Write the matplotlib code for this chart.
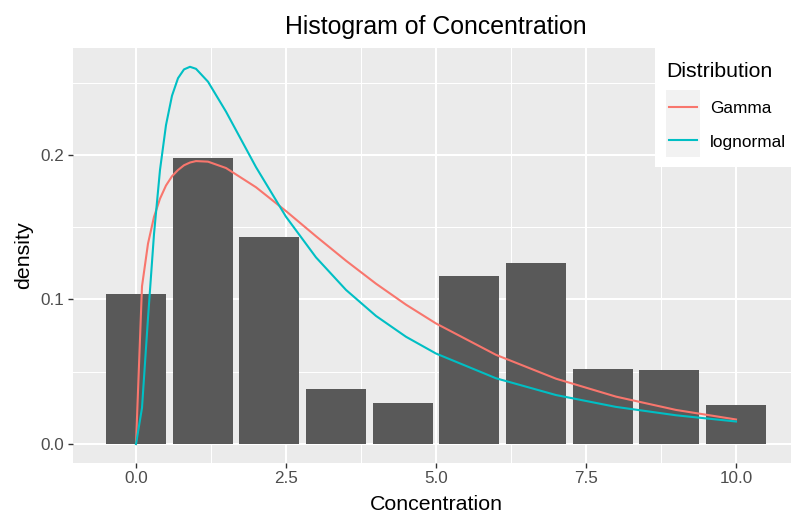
import matplotlib
matplotlib.use("Agg")
import matplotlib.pyplot as plt
from matplotlib.patches import Rectangle
from matplotlib.lines import Line2D

plt.rcParams['font.family'] = ['Liberation Sans', 'DejaVu Sans']

# Histogram bins (centers) and densities
bin_centers = [0.0, 1.111, 2.222, 3.333, 4.444, 5.556, 6.667, 7.778, 8.889, 10.0]
bar_density = [0.1038, 0.198, 0.143, 0.038, 0.0284, 0.116, 0.125, 0.052, 0.051, 0.027]
bar_width = 1.0

# Fitted density curves
curve_x = [0.0, 0.1, 0.2, 0.3, 0.4, 0.5, 0.6, 0.7, 0.8, 0.9, 1.0, 1.2, 1.5, 2.0,
           2.5, 3.0, 3.5, 4.0, 4.5, 5.0, 6.0, 7.0, 8.0, 9.0, 10.0]
gamma_y = [0.0, 0.1091, 0.1386, 0.1571, 0.1697, 0.1788, 0.1852, 0.1895, 0.1928, 0.1947,
           0.1957, 0.1953, 0.1909, 0.1776, 0.1611, 0.1437, 0.1268, 0.1109, 0.0964,
           0.0834, 0.0617, 0.0452, 0.0328, 0.0236, 0.0170]
lognormal_y = [0.0, 0.0250, 0.0871, 0.1452, 0.1896, 0.2206, 0.2409, 0.2530, 0.2591,
               0.2609, 0.2595, 0.2506, 0.2299, 0.1915, 0.1572, 0.1291, 0.1066, 0.0886,
               0.0742, 0.0626, 0.0455, 0.0339, 0.0257, 0.0199, 0.0156]

series_names = ["Gamma", "lognormal"]
series_colors = ["#F8766D", "#00BFC4"]

x_ticks = [0.0, 2.5, 5.0, 7.5, 10.0]
x_ticklabels = ["0.0", "2.5", "5.0", "7.5", "10.0"]
y_ticks = [0.0, 0.1, 0.2]
y_ticklabels = ["0.0", "0.1", "0.2"]

W, H = 791, 514
fig = plt.figure(figsize=(W / 100, H / 100), dpi=100)
L, R, B, T = 73, 799, 463, 48
ax = fig.add_axes([L / W, 1 - B / H, (R - L) / W, (B - T) / H])
ax.set_facecolor("#EBEBEB")
for s in ax.spines.values():
    s.set_visible(False)

ax.set_xlim(-1.05, 11.05)
ax.set_ylim(-0.0131, 0.2739)

# grid
for v in [1.25, 3.75, 6.25, 8.75]:
    ax.axvline(v, color="white", lw=0.75, zorder=0)
for v in [0.05, 0.15, 0.25]:
    ax.axhline(v, color="white", lw=0.75, zorder=0)
for v in x_ticks:
    ax.axvline(v, color="white", lw=1.45, zorder=0)
for v in y_ticks:
    ax.axhline(v, color="white", lw=1.45, zorder=0)

ax.bar(bin_centers, bar_density, width=bar_width, color="#595959", zorder=2)
ax.plot(curve_x, gamma_y, color=series_colors[0], lw=1.5, zorder=3)
ax.plot(curve_x, lognormal_y, color=series_colors[1], lw=1.5, zorder=3)

ax.set_xticks(x_ticks)
ax.set_xticklabels(x_ticklabels)
ax.set_yticks(y_ticks)
ax.set_yticklabels(y_ticklabels)
ax.tick_params(axis="both", length=3.6, width=1.0, color="#333333",
               labelcolor="#4D4D4D", labelsize=12.3, pad=2.5)

def fx(px):
    return px / W

def fy(py):
    return 1 - py / H

cx = (L + R) / 2
fig.text(fx(cx), fy(34), "Histogram of Concentration", ha="center", va="baseline",
         fontsize=17.9, color="black")
fig.text(fx(cx), fy(510.5), "Concentration", ha="center", va="baseline",
         fontsize=15.4, color="black")
fig.text(fx(24), fy((T + B) / 2), "density", ha="center", va="center", rotation=90,
         fontsize=15.4, color="black")

# legend (inside top-right)
fig.patches.append(Rectangle((fx(655), fy(167)), fx(800) - fx(655), fy(44) - fy(167),
                             transform=fig.transFigure, facecolor="white",
                             edgecolor="none", zorder=5))
fig.text(fx(666), fy(76.7), "Distribution", fontsize=15.3, va="baseline", ha="left", zorder=6)
key_rows = [106.7, 140]
label_base = [113.3, 146.7]
for name, col, yy, yb in zip(series_names, series_colors, key_rows, label_base):
    fig.patches.append(Rectangle((fx(666), fy(yy + 16.7)), fx(700) - fx(666), fy(yy - 16.7) - fy(yy + 16.7),
                                 transform=fig.transFigure, facecolor="#F2F2F2",
                                 edgecolor="none", zorder=6))
    fig.lines.append(Line2D([fx(669), fx(697)], [fy(yy), fy(yy)], transform=fig.transFigure,
                            color=col, lw=1.5, zorder=7))
    fig.text(fx(710), fy(yb), name, fontsize=12.4, va="baseline", ha="left", zorder=7)

fig.savefig("out.png", dpi=100, facecolor="white")
